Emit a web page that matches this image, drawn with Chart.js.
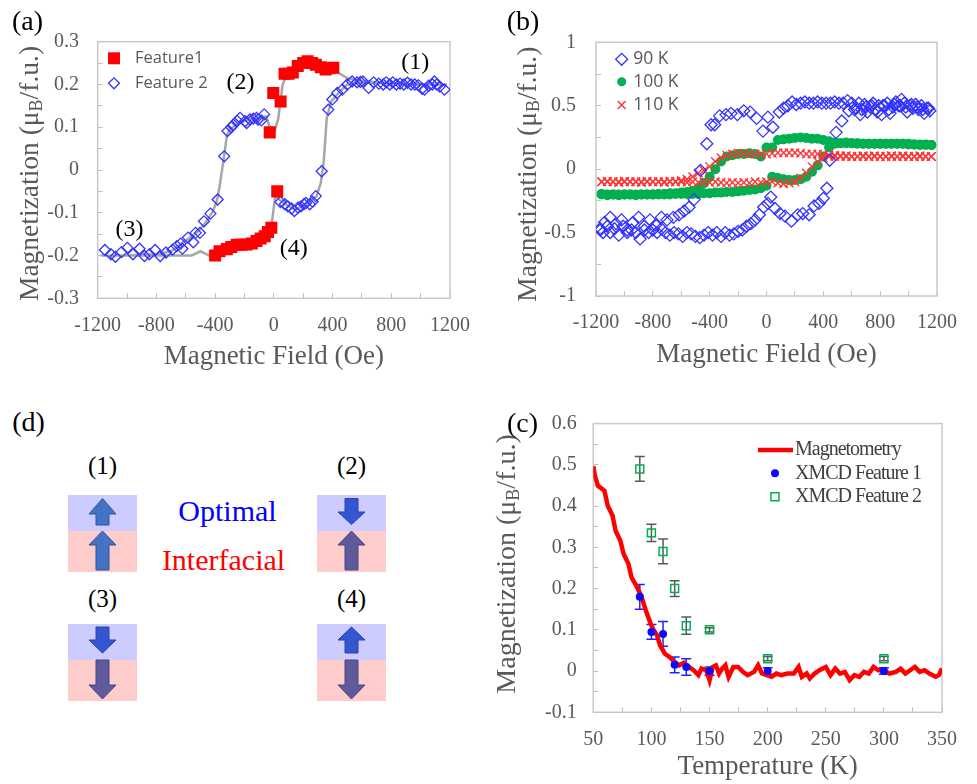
<!DOCTYPE html>
<html>
<head>
<meta charset="utf-8">
<script src="https://cdn.jsdelivr.net/npm/chart.js@4.4.0/dist/chart.umd.min.js"></script>
<style>
  body { margin: 0; background: #fff; width: 977px; height: 784px; position: relative; overflow: hidden; }
  canvas { position: absolute; }
  .panel { position: absolute; font-family: "Liberation Serif", serif; font-size: 28px; line-height: 1; color: #000; transform: translate(-50%, -50%); }
</style>
</head>
<body>
<canvas id="chartA" width="490" height="380" style="left:0;top:0"></canvas>
<canvas id="chartB" width="487" height="380" style="left:490px;top:0"></canvas>
<canvas id="chartC" width="497" height="394" style="left:480px;top:390px"></canvas>

<div class="panel" style="left:27.5px;top:21px">(a)</div>
<div class="panel" style="left:523px;top:21px">(b)</div>
<div class="panel" style="left:522.5px;top:422.5px">(c)</div>
<div class="panel" style="left:28.5px;top:422px">(d)</div>

<!-- (d) spin configuration sketch -->
<svg width="480" height="320" viewBox="0 390 480 320" style="position:absolute;left:0;top:390px">
  <g font-family="Liberation Serif, serif" text-anchor="middle" dominant-baseline="central">
    <text x="102.5" y="465" font-size="25">(1)</text>
    <text x="351.5" y="465" font-size="25">(2)</text>
    <text x="102.5" y="598" font-size="25">(3)</text>
    <text x="351.5" y="598" font-size="25">(4)</text>
    <text x="227.5" y="510" font-size="30" fill="#0000ff">Optimal</text>
    <text x="223.5" y="559" font-size="30" fill="#ff0000">Interfacial</text>
  </g>
  <rect x="68" y="495" width="69" height="36" fill="#ccccff"/>
  <rect x="68" y="531" width="69" height="41" fill="#ffcccc"/>
  <rect x="317" y="495" width="69" height="36" fill="#ccccff"/>
  <rect x="317" y="531" width="69" height="41" fill="#ffcccc"/>
  <rect x="68" y="624" width="69" height="36" fill="#ccccff"/>
  <rect x="68" y="660" width="69" height="41" fill="#ffcccc"/>
  <rect x="317" y="624" width="69" height="36" fill="#ccccff"/>
  <rect x="317" y="660" width="69" height="41" fill="#ffcccc"/>
  <g stroke-width="1" stroke-linejoin="round">
    <path d="M102.5 498.5 L116 514 L109 514 L109 525 L96 525 L96 514 L89 514 Z" fill="#4472c4" stroke="#2f5597"/>
    <path d="M102.5 531 L116 545 L109 545 L109 570 L96 570 L96 545 L89 545 Z" fill="#4472c4" stroke="#2f5597"/>
    <path d="M345 498.5 L358 498.5 L358 512 L365 512 L351.5 524.5 L338 512 L345 512 Z" fill="#3556d0" stroke="#2a44a8"/>
    <path d="M351.5 531 L365 545 L358 545 L358 570 L345 570 L345 545 L338 545 Z" fill="#5f5a9b" stroke="#4a4680"/>
    <path d="M96 627 L109 627 L109 640 L116 640 L102.5 653 L89 640 L96 640 Z" fill="#3556d0" stroke="#2a44a8"/>
    <path d="M96 660 L109 660 L109 685 L116 685 L102.5 699 L89 685 L96 685 Z" fill="#5f5a9b" stroke="#4a4680"/>
    <path d="M351.5 627 L365 640 L358 640 L358 653 L345 653 L345 640 L338 640 Z" fill="#3556d0" stroke="#2a44a8"/>
    <path d="M345 660 L358 660 L358 685 L365 685 L351.5 699 L338 685 L345 685 Z" fill="#5f5a9b" stroke="#4a4680"/>
  </g>
</svg>

<script>
// ---------- (a) Feature loops at 90 K ----------
var f1Field = [-400,-370,-320,-290,-253,-220,-186,-150,-118,-90,
               -62,-40,-17,23,-28,-4,46,73,100,129,
               163,200,230,260,286,320,353,380,405];
var f1Moment = [-0.2,-0.19,-0.185,-0.18,-0.175,-0.175,-0.174,-0.172,-0.166,-0.16,
                -0.155,-0.145,-0.135,-0.05,0.088,0.18,0.16,0.225,0.225,0.228,
                0.243,0.25,0.254,0.25,0.246,0.24,0.235,0.238,0.239];

var f2Field = [-1151,-1110,-1079,-1038,-998,-960,-915,-881,-848,-809,
               -774,-735,-690,-661,-635,-623,-585,-549,-533,-504,
               -476,-432,-383,-338,-316,-290,-275,-250,-230,-196,
               -185,-163,-140,-118,-107,-85,-66,45,75,95,
               120,140,165,185,205,219,245,264,286,326,
               371,398,432,466,500,533,567,590,607,646,
               680,715,745,765,790,810,835,860,885,910,
               935,960,985,1010,1027,1055,1080,1094,1110,1130,
               1162];
var f2Moment = [-0.187,-0.197,-0.203,-0.192,-0.182,-0.197,-0.184,-0.201,-0.197,-0.187,
                -0.201,-0.193,-0.186,-0.178,-0.172,-0.184,-0.158,-0.169,-0.147,-0.147,
                -0.12,-0.102,-0.069,0.032,0.091,0.1,0.106,0.115,0.122,0.114,
                0.11,0.118,0.12,0.122,0.118,0.116,0.13,-0.075,-0.08,-0.085,
                -0.09,-0.096,-0.088,-0.085,-0.08,-0.077,-0.08,-0.074,-0.061,-0.003,
                0.141,0.165,0.18,0.188,0.2,0.207,0.205,0.206,0.207,0.192,
                0.205,0.202,0.2,0.205,0.2,0.205,0.2,0.202,0.2,0.204,
                0.2,0.2,0.198,0.19,0.188,0.197,0.2,0.207,0.2,0.195,
                0.188];

// grey guide loop
var loopField = [-1180,-900,-700,-560,-500,-440,-400,-300,-200,-100,
                 -20,10,40,100,150,220,290,320,340,360,
                 390,440,500,600,800,1000,1180,
                 900,700,560,500,450,400,300,230,160,90,
                 60,30,5,-20,-50,-120,-200,-260,-300,-320,
                 -340,-370,-390,-420,-470,-520,-580,-640,-700,-800,
                 -1000,-1180];
var loopMoment = [-0.2,-0.2,-0.2,-0.2,-0.19,-0.2,-0.2,-0.19,-0.175,-0.16,
                  -0.14,-0.06,-0.07,-0.085,-0.092,-0.08,-0.062,-0.03,0.02,0.12,
                  0.16,0.18,0.2,0.205,0.202,0.2,0.2,
                  0.2,0.205,0.21,0.215,0.225,0.238,0.245,0.252,0.24,0.225,
                  0.2,0.12,0.09,0.09,0.125,0.12,0.115,0.105,0.095,0.08,
                  0.03,-0.04,-0.075,-0.1,-0.125,-0.145,-0.16,-0.175,-0.19,-0.197,
                  -0.2,-0.2];

var noteText = ['(1)', '(2)', '(3)', '(4)'];
var noteField = [964, -228, -983, 136];
var noteMoment = [0.251, 0.204, -0.139, -0.183];

// ---------- (b) loops at 90 / 100 / 110 K ----------
var k90Field = [1150,1130,1110,1090,1070,1050,1030,1010,990,970,
                950,930,910,890,870,850,830,810,790,770,
                750,730,710,690,670,650,630,600,570,540,
                510,480,450,420,390,360,330,300,270,240,
                210,180,150,120,90,45,10,-25,-70,-115,
                -160,-205,-250,-285,-330,-365,-390,-420,-465,-510,
                -545,-580,-615,-655,-700,-740,-780,-820,-860,-900,
                -940,-980,-1020,-1060,-1100,-1140,-1170,
                -1170,-1150,-1120,-1100,-1070,-1040,-1010,-980,-950,-920,
                -890,-860,-830,-800,-770,-740,-710,-680,-650,-620,
                -590,-560,-530,-500,-470,-440,-410,-380,-350,-320,
                -290,-260,-230,-200,-170,-140,-110,-80,-50,-20,
                10,30,60,95,130,175,220,255,300,335,
                370,400,425,445,490,530,580,620,660,700,
                740,780,820,860,900,940,980,1020,1060,1100,
                1140];
var k90Moment = [0.46,0.48,0.44,0.5,0.47,0.51,0.48,0.5,0.45,0.52,
                 0.55,0.5,0.53,0.49,0.44,0.52,0.5,0.43,0.5,0.47,
                 0.52,0.49,0.45,0.51,0.47,0.52,0.48,0.52,0.54,0.52,
                 0.52,0.53,0.52,0.52,0.52,0.53,0.52,0.52,0.53,0.52,
                 0.51,0.53,0.5,0.48,0.45,0.33,0.41,0.3,0.4,0.45,
                 0.46,0.43,0.44,0.43,0.42,0.35,0.35,0.2,-0.01,-0.24,
                 -0.3,-0.33,-0.36,-0.38,-0.4,-0.38,-0.44,-0.4,-0.45,-0.38,
                 -0.42,-0.48,-0.4,-0.43,-0.38,-0.42,-0.48,
                 -0.47,-0.5,-0.45,-0.5,-0.47,-0.52,-0.45,-0.5,-0.48,-0.5,
                 -0.55,-0.48,-0.5,-0.48,-0.5,-0.47,-0.5,-0.52,-0.5,-0.51,
                 -0.53,-0.5,-0.51,-0.53,-0.54,-0.52,-0.5,-0.52,-0.5,-0.53,
                 -0.5,-0.52,-0.51,-0.49,-0.48,-0.45,-0.43,-0.4,-0.36,-0.3,
                 -0.27,-0.22,-0.31,-0.35,-0.37,-0.41,-0.36,-0.35,-0.36,-0.29,
                 -0.27,-0.23,-0.15,0.07,0.29,0.38,0.46,0.47,0.43,0.49,
                 0.5,0.45,0.5,0.47,0.51,0.5,0.49,0.51,0.49,0.47,
                 0.48];

var fieldGrid = [-1160,-1120,-1080,-1040,-1000,-960,-920,-880,-840,-800,
                 -760,-720,-680,-640,-600,-560,-520,-480,-440,-400,
                 -360,-320,-280,-240,-200,-160,-120,-80,-40,0,
                 40,80,120,160,200,240,280,320,360,400,
                 440,480,520,560,600,640,680,720,760,800,
                 840,880,920,960,1000,1040,1080,1120,1160];
var k100Down = [-0.195,-0.2,-0.2,-0.2,-0.2,-0.2,-0.2,-0.2,-0.2,-0.2,
                -0.195,-0.195,-0.19,-0.19,-0.185,-0.18,-0.17,-0.15,-0.11,-0.06,
                0.0,0.06,0.1,0.11,0.12,0.12,0.125,0.12,0.1,0.17,
                0.17,0.23,0.235,0.24,0.245,0.25,0.245,0.24,0.24,0.23,
                0.22,0.21,0.205,0.205,0.205,0.2,0.2,0.2,0.2,0.2,
                0.2,0.2,0.2,0.2,0.2,0.195,0.195,0.195,0.19];
var k100Up = [-0.2,-0.205,-0.2,-0.205,-0.2,-0.2,-0.205,-0.2,-0.2,-0.2,
              -0.2,-0.2,-0.2,-0.195,-0.195,-0.195,-0.195,-0.195,-0.19,-0.19,
              -0.185,-0.185,-0.18,-0.18,-0.175,-0.17,-0.165,-0.16,-0.15,-0.13,
              -0.06,-0.07,-0.08,-0.085,-0.085,-0.08,-0.06,-0.02,0.03,0.1,
              0.17,0.2,0.205,0.21,0.205,0.205,0.2,0.2,0.2,0.2,
              0.2,0.2,0.2,0.2,0.195,0.195,0.19,0.19,0.19];
var k110Down = [-0.1,-0.095,-0.1,-0.1,-0.095,-0.1,-0.1,-0.1,-0.095,-0.1,
                -0.1,-0.1,-0.095,-0.1,-0.09,-0.08,-0.06,-0.03,-0.01,0.02,
                0.06,0.09,0.11,0.12,0.125,0.125,0.12,0.12,0.115,0.12,
                0.125,0.13,0.13,0.13,0.13,0.125,0.12,0.12,0.12,0.115,
                0.11,0.11,0.105,0.1,0.1,0.1,0.105,0.1,0.1,0.1,
                0.1,0.105,0.1,0.1,0.1,0.1,0.105,0.1,0.1];
var k110Up = [-0.1,-0.1,-0.1,-0.105,-0.1,-0.1,-0.1,-0.105,-0.1,-0.1,
              -0.1,-0.105,-0.1,-0.1,-0.1,-0.105,-0.1,-0.105,-0.1,-0.105,
              -0.1,-0.105,-0.11,-0.105,-0.11,-0.105,-0.11,-0.1,-0.105,-0.1,
              -0.1,-0.11,-0.115,-0.11,-0.1,-0.07,-0.03,0.02,0.06,0.09,
              0.1,0.1,0.1,0.105,0.1,0.1,0.1,0.1,0.105,0.1,
              0.1,0.1,0.1,0.105,0.1,0.1,0.1,0.1,0.1];

// ---------- (c) temperature dependence ----------
var tempK = [50,51.4,54.1,59.6,62.4,66.5,69.2,73.3,76.1,80.2,
             82.9,87,91.1,95.2,99.3,102,104.8,107.5,111.6,115.7,
             119.8,124,128,132.2,136.3,140.4,143.1,147.2,150,152.7,
             155.5,158.2,160.9,163.6,166.4,170.5,174.6,178.7,182.8,188.3,
             191.8,195.1,199.2,203.4,207.5,211.6,217,222.5,226.6,229.4,
             233.5,236.3,240.4,244.5,250,254.1,258.2,262.3,266.4,270.5,
             274.7,278.8,282.9,287,291.1,295.2,299.3,304.8,310.3,314.4,
             318.5,322.6,326.7,330.8,335,339.1,344.6,347.3,350];
var magMoment = [0.497,0.473,0.449,0.437,0.401,0.377,0.34,0.316,0.284,0.26,
                 0.227,0.207,0.183,0.147,0.115,0.099,0.087,0.062,0.042,0.034,
                 0.022,0.014,0.02,0.01,0.002,-0.01,0.006,0.002,-0.022,0.01,
                 0.014,-0.006,0.006,0.014,-0.014,0.01,0.01,-0.002,-0.01,-0.002,
                 0.014,-0.006,-0.01,-0.014,-0.006,-0.01,-0.006,-0.006,0.01,-0.014,
                 -0.006,-0.018,-0.006,0.002,0.01,-0.01,0.006,-0.006,-0.002,-0.022,
                 -0.01,-0.014,-0.002,-0.006,0.01,0.002,0.002,-0.006,-0.002,0.006,
                 -0.006,0.002,0.01,-0.002,0.002,-0.006,-0.014,-0.01,0.006];
var xmcdTemp = [90,100,110,120,130,150,200,300];
var xmcdF1 = [0.18,0.095,0.09,0.015,0.01,0.0,0.0,0.0];
var xmcdF1Err = [0.03,0.018,0.03,0.019,0.02,0.01,0.008,0.008];
var xmcdF2 = [0.49,0.335,0.29,0.2,0.11,0.1,0.03,0.03];
var xmcdF2Err = [0.03,0.021,0.03,0.019,0.021,0.005,0.005,0.005];

// ---------- helpers ----------
var GREY = '#595959';
var SERIF = '"Liberation Serif", "Times New Roman", serif';

function pts(xs, ys) {
    return xs.map(function (x, i) { return { x: x, y: ys[i] }; });
}

function onStep(v, step) {
    return Math.abs(v / step - Math.round(v / step)) < 1e-6;
}

function fmt(v) {
    return String(Math.round(v * 10) / 10);
}

function axis(c, horizontal) {
    var ax = {
        type: 'linear',
        min: c.min,
        max: c.max,
        ticks: {
            stepSize: c.step,
            autoSkip: false,
            maxRotation: 0,
            padding: c.pad,
            color: GREY,
            font: { family: SERIF, size: 20 },
            callback: function (v) { return onStep(v, c.label) ? fmt(v) : ''; }
        },
        grid: { drawOnChartArea: false, tickLength: -5, color: '#bfbfbf', lineWidth: 1 },
        border: { display: false }
    };
    if (horizontal) {
        ax.position = 'bottom';
        ax.title = { display: true, text: c.title, color: GREY, font: { family: SERIF, size: 27 },
                     padding: { top: 0, bottom: c.titlePad } };
        ax.afterFit = function (s) { s.height = c.size; };
    } else {
        ax.position = 'left';
        ax.afterFit = function (s) { s.width = c.size; };
    }
    return ax;
}

function drawSymbol(ctx, s, x, y) {
    ctx.save();
    ctx.beginPath();
    if (s.shape === 'square') {
        ctx.rect(x - s.size / 2, y - s.size / 2, s.size, s.size);
    } else if (s.shape === 'diamond') {
        ctx.moveTo(x - s.size, y); ctx.lineTo(x, y - s.size);
        ctx.lineTo(x + s.size, y); ctx.lineTo(x, y + s.size); ctx.closePath();
    } else if (s.shape === 'circle') {
        ctx.arc(x, y, s.size, 0, Math.PI * 2);
    } else if (s.shape === 'cross') {
        ctx.moveTo(x - s.size, y - s.size); ctx.lineTo(x + s.size, y + s.size);
        ctx.moveTo(x + s.size, y - s.size); ctx.lineTo(x - s.size, y + s.size);
    } else if (s.shape === 'line') {
        ctx.moveTo(x - s.size, y); ctx.lineTo(x + s.size, y);
    }
    if (s.fill) { ctx.fillStyle = s.fill; ctx.fill(); }
    if (s.stroke) { ctx.strokeStyle = s.stroke; ctx.lineWidth = s.width || 1.5; ctx.stroke(); }
    ctx.restore();
}

function drawYTitle(ctx, x, y, size) {
    var big = size + 'px ' + SERIF, small = Math.round(size * 0.65) + 'px ' + SERIF;
    var p1 = 'Magnetization (\u03bc', p2 = 'B', p3 = '/f.u.)';
    ctx.save();
    ctx.font = big;
    var w1 = ctx.measureText(p1).width, w3 = ctx.measureText(p3).width;
    ctx.font = small;
    var w2 = ctx.measureText(p2).width;
    ctx.translate(x, y);
    ctx.rotate(-Math.PI / 2);
    ctx.fillStyle = GREY;
    ctx.textBaseline = 'middle';
    var cx = -(w1 + w2 + w3) / 2;
    ctx.font = big; ctx.fillText(p1, cx, 0); cx += w1;
    ctx.font = small; ctx.fillText(p2, cx, size * 0.22); cx += w2;
    ctx.font = big; ctx.fillText(p3, cx, 0);
    ctx.restore();
}

// frame, error bars, y title, legend and notes for one panel
function makeDecor(cfg) {
    return {
        id: 'decor',
        beforeDatasetsDraw: function (chart) {
            var ctx = chart.ctx, a = chart.chartArea, sx = chart.scales.x, sy = chart.scales.y;
            ctx.save();
            ctx.strokeStyle = '#c8c8c8';
            ctx.lineWidth = 1.5;
            ctx.strokeRect(a.left, a.top, a.right - a.left, a.bottom - a.top);
            (cfg.errorBars || []).forEach(function (eb) {
                ctx.strokeStyle = eb.color;
                ctx.lineWidth = 1.5;
                eb.x.forEach(function (xv, i) {
                    var px = sx.getPixelForValue(xv);
                    var y1 = sy.getPixelForValue(eb.y[i] - eb.err[i]);
                    var y2 = sy.getPixelForValue(eb.y[i] + eb.err[i]);
                    ctx.beginPath();
                    ctx.moveTo(px, y1); ctx.lineTo(px, y2);
                    ctx.moveTo(px - 5, y1); ctx.lineTo(px + 5, y1);
                    ctx.moveTo(px - 5, y2); ctx.lineTo(px + 5, y2);
                    ctx.stroke();
                });
            });
            ctx.restore();
        },
        afterDraw: function (chart) {
            var ctx = chart.ctx, a = chart.chartArea, sx = chart.scales.x, sy = chart.scales.y;
            drawYTitle(ctx, cfg.yTitleX, (a.top + a.bottom) / 2 + cfg.yTitleDy, cfg.yTitleSize);
            ctx.save();
            ctx.textBaseline = 'middle';
            (cfg.legend || []).forEach(function (it) {
                drawSymbol(ctx, it.symbol, it.sx, it.y);
                ctx.font = it.font;
                ctx.fillStyle = it.color;
                if (it.spacing) ctx.letterSpacing = it.spacing;
                ctx.fillText(it.text, it.tx, it.y);
                ctx.letterSpacing = '0px';
            });
            if (cfg.notes) {
                ctx.font = '24px ' + SERIF;
                ctx.fillStyle = '#000';
                ctx.textAlign = 'center';
                cfg.notes.text.forEach(function (t, i) {
                    ctx.fillText(t, sx.getPixelForValue(cfg.notes.x[i]), sy.getPixelForValue(cfg.notes.y[i]));
                });
            }
            ctx.restore();
        }
    };
}

function makeChart(id, cfg) {
    return new Chart(document.getElementById(id), {
        type: 'scatter',
        data: { datasets: cfg.datasets },
        options: {
            responsive: false,
            animation: false,
            events: [],
            layout: { padding: { left: 0, top: cfg.padTop, right: cfg.padRight, bottom: 0 } },
            plugins: { legend: { display: false }, tooltip: { enabled: false } },
            scales: { x: axis(cfg.x, true), y: axis(cfg.y, false) }
        },
        plugins: [makeDecor(cfg)]
    });
}

// ---------- panel (a) ----------
makeChart('chartA', {
    padTop: 41.7, padRight: 36,
    x: { min: -1200, max: 1200, step: 200, label: 400, pad: 20, size: 81.7, titlePad: 6.8, title: 'Magnetic Field (Oe)' },
    y: { min: -0.3, max: 0.3, step: 0.05, label: 0.1, pad: 23.7, size: 97.7 },
    yTitleX: 31, yTitleDy: 3.5, yTitleSize: 27.5,
    datasets: [
        { data: pts(f1Field, f1Moment), pointStyle: 'rect', pointRadius: 8.5, backgroundColor: '#ff0000',
          borderWidth: 0, order: 1 },
        { data: pts(f2Field, f2Moment), pointStyle: 'rectRot', pointRadius: 5.5, backgroundColor: 'rgba(0,0,0,0)',
          borderColor: '#3333ff', borderWidth: 1.3, order: 2 },
        { data: pts(loopField, loopMoment), showLine: true, pointRadius: 0, borderColor: '#a6a6a6',
          borderWidth: 2.5, order: 3 }
    ],
    legend: [
        { symbol: { shape: 'square', size: 12, fill: '#ff0000' }, sx: 114, tx: 135, y: 58.3,
          text: 'Feature1', font: '16.5px "Open Sans", sans-serif', color: GREY },
        { symbol: { shape: 'diamond', size: 5.5, stroke: '#3333ff', width: 1.3 }, sx: 114, tx: 135, y: 83.3,
          text: 'Feature 2', font: '16.5px "Open Sans", sans-serif', color: GREY }
    ],
    notes: { text: noteText, x: noteField, y: noteMoment }
});

// ---------- panel (b) ----------
makeChart('chartB', {
    padTop: 42.3, padRight: 25.3,
    x: { min: -1200, max: 1200, step: 200, label: 400, pad: 20, size: 84, titlePad: 8.8, title: 'Magnetic Field (Oe)' },
    y: { min: -1, max: 1, step: 0.25, label: 0.5, pad: 25, size: 106 },
    yTitleX: 38.3, yTitleDy: 5, yTitleSize: 27.5,
    datasets: [
        { data: pts(k90Field, k90Moment), pointStyle: 'rectRot', pointRadius: 6, backgroundColor: 'rgba(0,0,0,0)',
          borderColor: '#3333ff', borderWidth: 1.3, order: 1 },
        { data: pts(fieldGrid, k110Down).concat(pts(fieldGrid, k110Up)), pointStyle: 'crossRot', pointRadius: 6,
          borderColor: '#ff3333', borderWidth: 1.4, order: 2 },
        { data: pts(fieldGrid, k100Down).concat(pts(fieldGrid, k100Up)), pointStyle: 'circle', pointRadius: 5,
          backgroundColor: '#00b050', borderWidth: 0, order: 3 }
    ],
    legend: [
        { symbol: { shape: 'diamond', size: 6, stroke: '#3333ff', width: 1.3 }, sx: 131.7, tx: 143.3, y: 59.3,
          text: '90 K', font: '17.5px "Open Sans", sans-serif', color: GREY },
        { symbol: { shape: 'circle', size: 4.5, fill: '#00b050' }, sx: 131.7, tx: 143.3, y: 81.7,
          text: '100 K', font: '17.5px "Open Sans", sans-serif', color: GREY },
        { symbol: { shape: 'cross', size: 4, stroke: '#ff3333', width: 1.4 }, sx: 131.7, tx: 143.3, y: 105,
          text: '110 K', font: '17.5px "Open Sans", sans-serif', color: GREY }
    ]
});

// ---------- panel (c) ----------
makeChart('chartC', {
    padTop: 32.3, padRight: 19.3,
    x: { min: 50, max: 350, step: 25, label: 50, pad: 20, size: 71.7, titlePad: 1.1, title: 'Temperature (K)' },
    y: { min: -0.1, max: 0.6, step: 0.05, label: 0.1, pad: 21.6, size: 113.3 },
    yTitleX: 28, yTitleDy: -4, yTitleSize: 28,
    datasets: [
        { data: pts(xmcdTemp, xmcdF1), pointStyle: 'circle', pointRadius: 4, backgroundColor: '#0a0aff',
          borderWidth: 0, order: 1 },
        { data: pts(xmcdTemp, xmcdF2), pointStyle: 'rect', pointRadius: 5.6, backgroundColor: 'rgba(0,0,0,0)',
          borderColor: '#00b050', borderWidth: 1.5, order: 2 },
        { data: pts(tempK, magMoment), showLine: true, pointRadius: 0, borderColor: '#ff0000',
          borderWidth: 4.5, order: 3 }
    ],
    errorBars: [
        { x: xmcdTemp, y: xmcdF2, err: xmcdF2Err, color: '#595959' },
        { x: xmcdTemp, y: xmcdF1, err: xmcdF1Err, color: '#2222ff' }
    ],
    legend: [
        { symbol: { shape: 'line', size: 17.5, stroke: '#ff0000', width: 4.5 }, sx: 295.5, tx: 315, y: 60,
          text: 'Magnetometry', font: '20px ' + SERIF, color: '#404040', spacing: '-1px' },
        { symbol: { shape: 'circle', size: 4, fill: '#0a0aff' }, sx: 295, tx: 315, y: 83.3,
          text: 'XMCD Feature 1', font: '20px ' + SERIF, color: '#404040', spacing: '-1px' },
        { symbol: { shape: 'square', size: 8, stroke: '#00b050', width: 1.5 }, sx: 295, tx: 315, y: 106.7,
          text: 'XMCD Feature 2', font: '20px ' + SERIF, color: '#404040', spacing: '-1px' }
    ]
});
</script>
</body>
</html>
